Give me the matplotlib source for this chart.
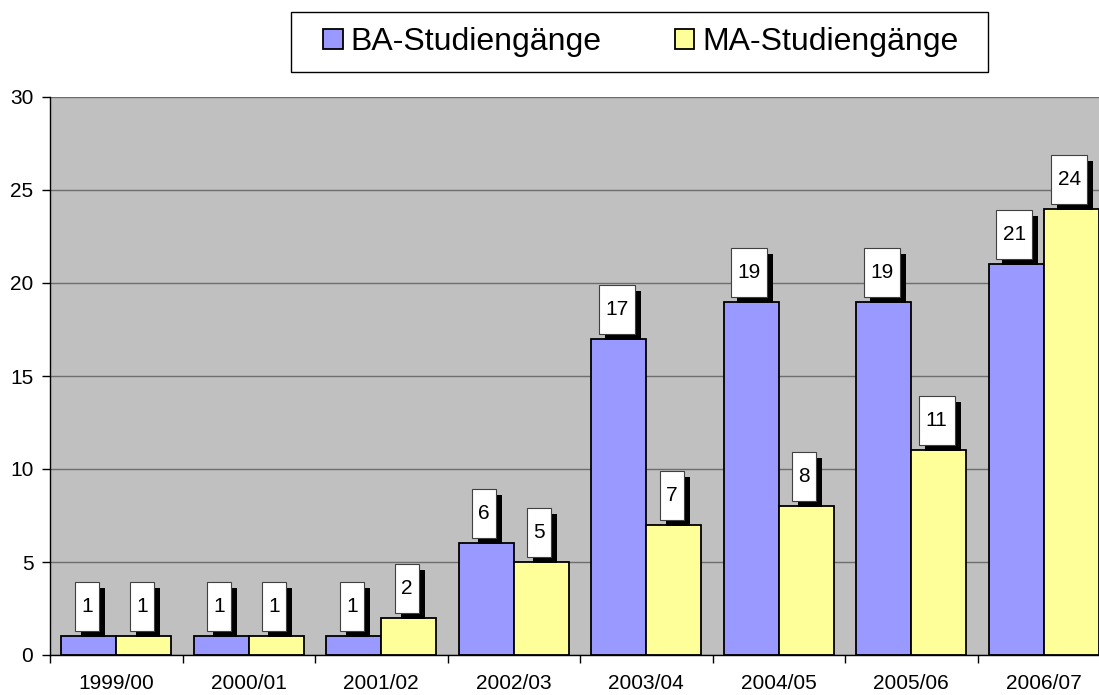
import matplotlib
matplotlib.use("Agg")
import matplotlib.pyplot as plt
import matplotlib.transforms as mtransforms
from matplotlib.patches import Rectangle
import numpy as np

plt.rcParams['font.family'] = ['Liberation Sans', 'DejaVu Sans']

categories = ["1999/00", "2000/01", "2001/02", "2002/03", "2003/04", "2004/05", "2005/06", "2006/07"]
ba_values = [1, 1, 1, 6, 17, 19, 19, 21]
ma_values = [1, 1, 2, 5, 7, 8, 11, 24]
series_names = ["BA-Studiengänge", "MA-Studiengänge"]
yticks = [0, 5, 10, 15, 20, 25, 30]

fig = plt.figure(figsize=(10.99, 6.95), dpi=100)
W, H = 1099, 695
ax = fig.add_axes([50 / W, 40 / H, 1060 / W, 558 / H])
ax.set_facecolor('#C0C0C0')

x = np.arange(len(categories))
bw = 0.415
b1 = ax.bar(x - bw / 2, ba_values, bw, color='#9999FF', edgecolor='black', linewidth=1.3,
            label=series_names[0], zorder=3)
b2 = ax.bar(x + bw / 2, ma_values, bw, color='#FFFF99', edgecolor='black', linewidth=1.3,
            label=series_names[1], zorder=3)

ax.set_xlim(-0.5, len(categories) - 0.5)
ax.set_ylim(0, 30)
ax.set_yticks(yticks)
ax.yaxis.grid(True, color='#6E6E6E', linewidth=1.0, zorder=1)
ax.set_axisbelow(True)

ax.set_xticks(x)
ax.set_xticklabels(categories, fontsize=15)
ax.set_xticks(np.arange(len(categories) + 1) - 0.5, minor=True)
ax.tick_params(axis='x', which='major', length=0, pad=13.5)
ax.tick_params(axis='x', which='minor', length=6, width=1, color='black', direction='out')
ax.tick_params(axis='y', length=6, width=1, direction='out', labelsize=15, pad=6)

for s in ['top', 'right']:
    ax.spines[s].set_visible(False)
ax.spines['left'].set_color('black')
ax.spines['bottom'].set_color('black')
ax.spines['left'].set_linewidth(1.0)
ax.spines['bottom'].set_linewidth(1.0)
ax.spines['bottom'].set_zorder(4)

# data label boxes with shadows (sizes in pixels, anchored at bar tops)
px = 1.0 / fig.dpi
def label(xc, val):
    txt = str(val)
    w = (24 if len(txt) == 1 else 36) * px
    h = 49 * px
    gap = 5 * px
    dx = -2 * px
    sh = 6 * px
    trans = fig.dpi_scale_trans + mtransforms.ScaledTranslation(xc, val, ax.transData)
    ax.add_patch(Rectangle((dx - w / 2 + sh, gap - sh), w, h, facecolor='black',
                           edgecolor='black', linewidth=0, transform=trans, zorder=5, clip_on=False))
    ax.add_patch(Rectangle((dx - w / 2, gap), w, h, facecolor='white',
                           edgecolor='#404040', linewidth=0.8, transform=trans, zorder=6, clip_on=False))
    ax.text(dx, gap + h / 2, txt, transform=trans, ha='center', va='center',
            fontsize=15, zorder=7)

for i in range(len(categories)):
    label(x[i] - bw / 2, ba_values[i])
    label(x[i] + bw / 2, ma_values[i])

# legend frame (fixed box as in the reference)
fig.add_artist(Rectangle((291 / W, 1 - 72 / H), (988 - 291) / W, 60 / H,
                         transform=fig.transFigure, facecolor='white',
                         edgecolor='black', linewidth=1.0, zorder=1))
leg = fig.legend(handles=[b1, b2], labels=series_names, loc='center',
                 bbox_to_anchor=(641 / W, 1 - 42 / H), ncol=2,
                 fontsize=23, frameon=False,
                 handlelength=0.6, handleheight=0.6, handletextpad=0.25,
                 columnspacing=2.3, borderpad=0.0, borderaxespad=0)
leg.set_zorder(2)

fig.savefig("out.png", dpi=100)
